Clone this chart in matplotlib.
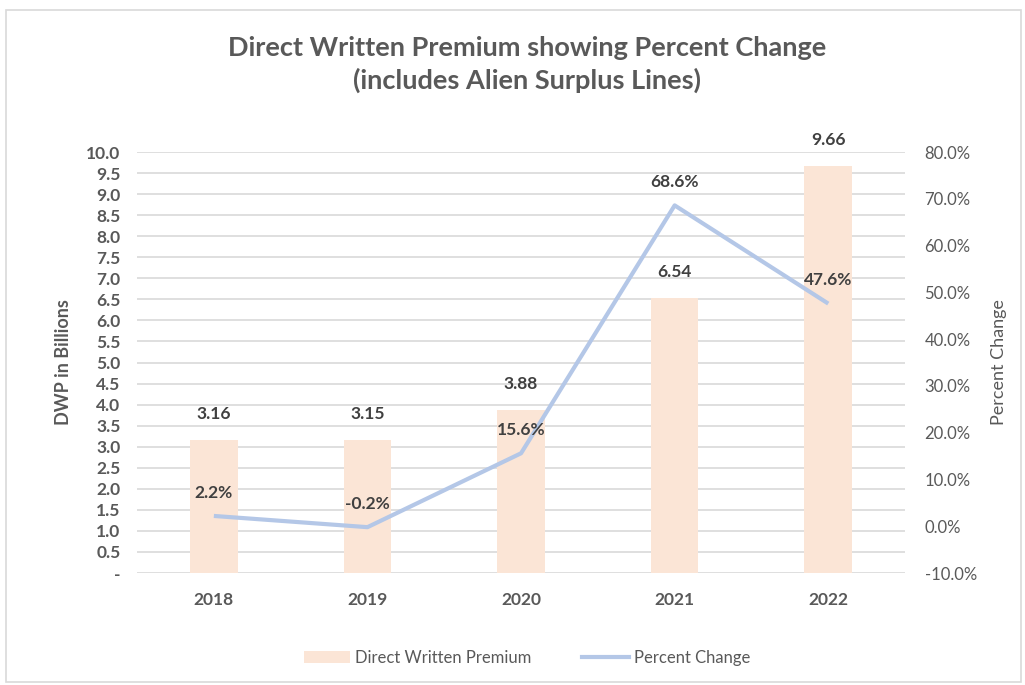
import matplotlib.pyplot as plt
from matplotlib.patches import Rectangle, Patch
from matplotlib.lines import Line2D

plt.rcParams['font.family'] = ['Lato', 'DejaVu Sans']

# data
years = ['2018', '2019', '2020', '2021', '2022']
dwp = [3.16, 3.15, 3.88, 6.54, 9.66]
pct_change = [2.2, -0.2, 15.6, 68.6, 47.6]

bar_color = '#FBE5D6'
line_color = '#B4C7E7'
grid_color = '#D9D9D9'
text_gray = '#595959'
label_dark = '#404040'

fig = plt.figure(figsize=(10.25, 6.85), dpi=100)
fig.patches.append(Rectangle((0.006, 0.004), 0.99, 0.982, transform=fig.transFigure,
                             fill=False, edgecolor='#D9D9D9', linewidth=1.2))

ax = fig.add_axes([0.1337, 0.1635, 0.7493, 0.6145])
x = list(range(len(years)))

ax.bar(x, dwp, width=0.31, color=bar_color, zorder=2)
ax.set_xlim(-0.5, len(years) - 0.5)
ax.set_ylim(0, 10)
ax.set_yticks([i * 0.5 for i in range(21)])
ax.set_yticklabels(['-'] + ['%.1f' % (i * 0.5) for i in range(1, 21)])
ax.set_xticks(x)
ax.set_xticklabels(years)
ax.yaxis.grid(True, color=grid_color, linewidth=1.2, zorder=0)
ax.set_axisbelow(True)
for s in ax.spines.values():
    s.set_visible(False)
ax.tick_params(length=0, labelsize=12.5, colors=text_gray, pad=12)
for lab in ax.get_xticklabels() + ax.get_yticklabels():
    lab.set_fontweight('bold')
ax.tick_params(axis='x', pad=14)
ax.set_ylabel('DWP in Billions', fontsize=13, fontweight='bold', color=text_gray, labelpad=10)

for xi, v in zip(x, dwp):
    ax.annotate('%.2f' % v, (xi, v), xytext=(0, 13), textcoords='offset points',
                ha='center', va='bottom', fontsize=12.5, fontweight='bold', color=label_dark)

ax2 = ax.twinx()
ax2.plot(x, pct_change, color=line_color, linewidth=3, solid_capstyle='butt', zorder=3)
ax2.set_ylim(-10, 80)
ax2.set_yticks(range(-10, 81, 10))
ax2.set_yticklabels(['%.1f%%' % t for t in range(-10, 81, 10)])
for s in ax2.spines.values():
    s.set_visible(False)
ax2.tick_params(length=0, labelsize=12, colors=text_gray, pad=14)
ax2.set_ylabel('Percent Change', fontsize=13, color=text_gray, labelpad=10)

for xi, v in zip(x, pct_change):
    ax2.annotate('%.1f%%' % v, (xi, v), xytext=(0, 11), textcoords='offset points',
                 ha='center', va='bottom', fontsize=12.5, fontweight='bold', color=label_dark)

fig.text(0.514, 0.906, 'Direct Written Premium showing Percent Change\n(includes Alien Surplus Lines)',
         ha='center', va='center', fontsize=19.5, fontweight='bold', color=text_gray, linespacing=1.35)

handles = [Patch(facecolor=bar_color, edgecolor='none'),
           Line2D([0], [0], color=line_color, linewidth=3)]
fig.legend(handles, ['Direct Written Premium', 'Percent Change'], loc='center',
           bbox_to_anchor=(0.514, 0.04), ncol=2, frameon=False, fontsize=12,
           labelcolor=text_gray, columnspacing=3, handlelength=2.8, handletextpad=0.3)

fig.savefig('out.png', dpi=100)
